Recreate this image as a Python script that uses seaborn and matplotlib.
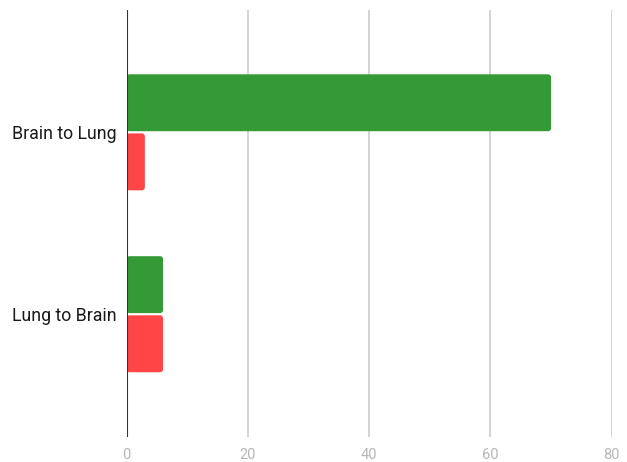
import numpy as np
import pandas as pd
import matplotlib.pyplot as plt
import seaborn as sns
from matplotlib.patches import FancyBboxPatch

# data
categories = ["Brain to Lung", "Lung to Brain"]
series_names = ["A", "B"]
green_vals = [70, 6]
red_vals = [3, 6]
x_ticks = [0, 20, 40, 60, 80]

df = pd.DataFrame({
    "route": categories * 2,
    "series": [series_names[0]] * 2 + [series_names[1]] * 2,
    "value": green_vals + red_vals,
})

sns.set_theme(style="white")
plt.rcParams["font.family"] = ["Roboto", "DejaVu Sans"]

fig = plt.figure(figsize=(6.27, 4.62), dpi=100)
ax = fig.add_axes([0.202, 0.0541, 0.7736, 0.9253])

sns.barplot(data=df, y="route", x="value", hue="series", orient="h",
            palette=["#339a36", "#ff4545"], saturation=1, width=0.65,
            legend=False, edgecolor="white", linewidth=1.0, ax=ax, zorder=3)

ax.set_xlim(0, 80)
ax.set_ylim(1.675, -0.675)

# swap plain rectangles for slightly rounded ones
xpp = 80 / (0.7736 * 627)
ypp = 2.35 / (0.9253 * 462)
for p in list(ax.patches):
    x, y = p.get_x(), p.get_y()
    w, h = p.get_width(), p.get_height()
    fb = FancyBboxPatch((x, y + 0.006), w, h - 0.012,
                        boxstyle="round,pad=0,rounding_size=%f" % (3 * xpp),
                        mutation_aspect=ypp / xpp,
                        facecolor=p.get_facecolor(), edgecolor="none", zorder=3)
    p.remove()
    ax.add_patch(fb)

ax.set_xticks(x_ticks)
ax.set_xticklabels([str(t) for t in x_ticks])
ax.set_xlabel("")
ax.set_ylabel("")

# vertical gridlines, darker baseline at zero
for t in x_ticks[1:]:
    ax.axvline(t, color="#cccccc", linewidth=1.2, zorder=1)
ax.axvline(0, color="#333333", linewidth=1.5, zorder=4)

for s in ax.spines.values():
    s.set_visible(False)

ax.tick_params(axis="x", length=0, pad=8, labelsize=10.5, labelcolor="#b7b7b7")
ax.tick_params(axis="y", length=0, pad=7.5, labelsize=12.8, labelcolor="#1a1a1a")

fig.savefig("out.png", dpi=100)
